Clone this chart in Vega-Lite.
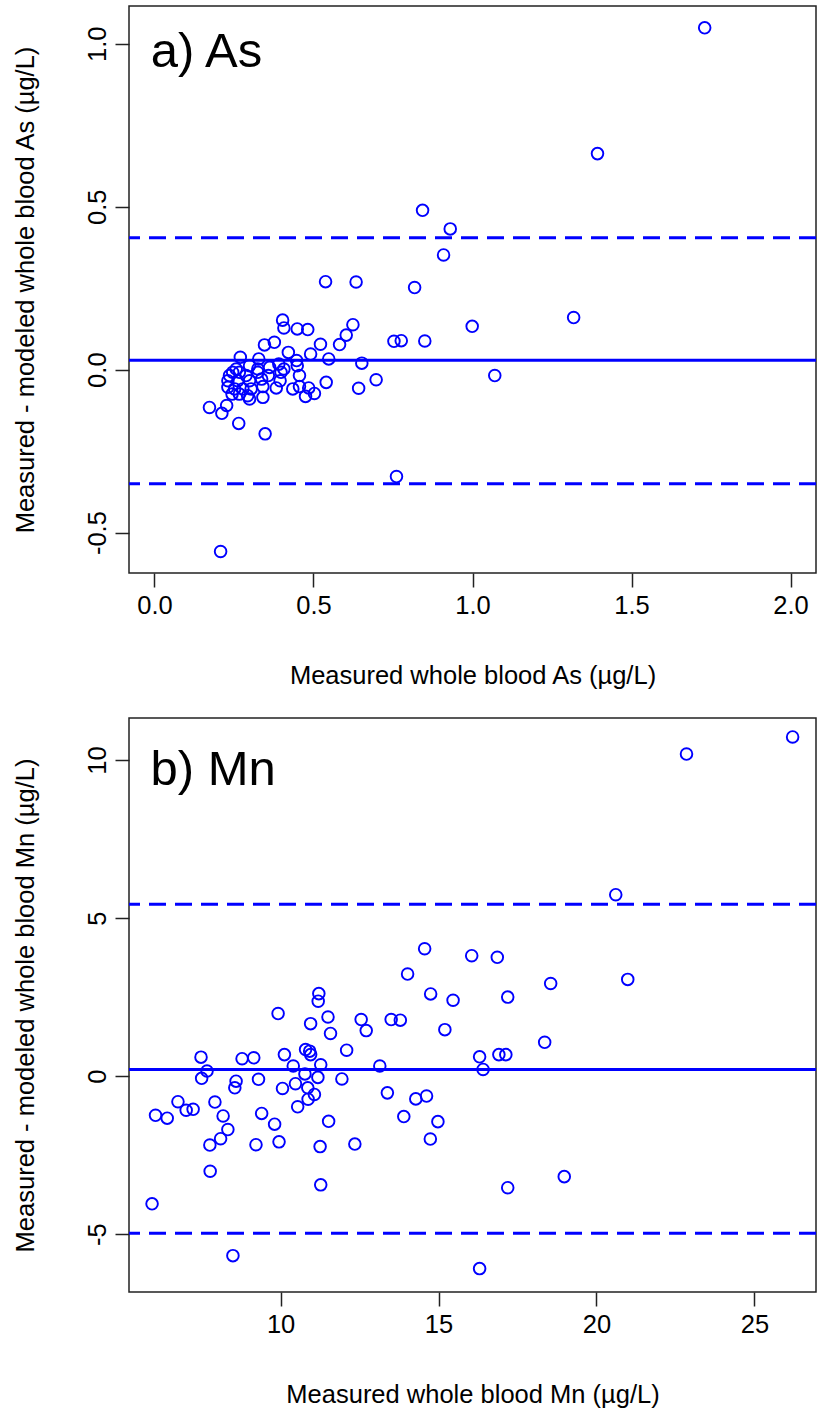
{
  "$schema": "https://vega.github.io/schema/vega-lite/v6.json",
  "padding": {"left": 12, "top": 5, "right": 0, "bottom": 0},
  "bounds": "flush",
  "spacing": 145,
  "background": "white",
  "config": {
    "font": "Liberation Sans",
    "view": {"stroke": "#222222", "strokeWidth": 1.5},
    "axis": {
      "grid": false, "domain": false,
      "tickColor": "#222222", "tickWidth": 1.5, "tickSize": 14,
      "labelFont": "Liberation Sans", "titleFont": "Liberation Sans",
      "labelFontSize": 25.5, "titleFontSize": 25.5,
      "labelColor": "#000000", "titleColor": "#000000",
      "titleFontWeight": "normal", "labelFlush": false, "labelOverlap": false
    },
    "axisX": {"labelPadding": 6, "titlePadding": 45},
    "axisY": {"labelAngle": -90, "labelAlign": "center", "labelBaseline": "bottom", "labelPadding": 5, "titlePadding": 47}
  },
  "datasets": {
    "as_pts": [
      {"x":1.730,"y":1.049},{"x":1.393,"y":0.663},{"x":0.843,"y":0.489},{"x":0.930,"y":0.432},
      {"x":0.909,"y":0.352},{"x":0.538,"y":0.270},{"x":0.634,"y":0.269},{"x":0.818,"y":0.252},
      {"x":1.318,"y":0.160},{"x":0.999,"y":0.133},{"x":0.624,"y":0.138},{"x":0.403,"y":0.152},
      {"x":0.407,"y":0.128},{"x":0.449,"y":0.125},{"x":0.482,"y":0.123},{"x":0.603,"y":0.106},
      {"x":0.582,"y":0.077},{"x":0.522,"y":0.078},{"x":0.346,"y":0.076},{"x":0.377,"y":0.084},
      {"x":0.421,"y":0.053},{"x":0.491,"y":0.048},{"x":0.548,"y":0.033},{"x":0.652,"y":0.020},
      {"x":0.270,"y":0.038},{"x":0.328,"y":0.033},{"x":0.447,"y":0.028},{"x":0.449,"y":0.012},
      {"x":0.391,"y":0.017},{"x":0.362,"y":0.007},{"x":0.407,"y":0.002},{"x":0.325,"y":0.002},
      {"x":0.299,"y":0.012},{"x":0.257,"y":0.002},{"x":0.246,"y":-0.008},{"x":0.267,"y":-0.008},
      {"x":0.236,"y":-0.018},{"x":0.288,"y":-0.018},{"x":0.325,"y":-0.008},{"x":0.358,"y":-0.018},
      {"x":0.398,"y":-0.008},{"x":0.456,"y":-0.018},{"x":0.395,"y":-0.034},{"x":0.231,"y":-0.034},
      {"x":0.262,"y":-0.034},{"x":0.299,"y":-0.034},{"x":0.337,"y":-0.029},{"x":0.231,"y":-0.054},
      {"x":0.252,"y":-0.059},{"x":0.278,"y":-0.059},{"x":0.304,"y":-0.059},{"x":0.341,"y":-0.052},
      {"x":0.383,"y":-0.056},{"x":0.244,"y":-0.075},{"x":0.267,"y":-0.075},{"x":0.293,"y":-0.080},
      {"x":0.299,"y":-0.090},{"x":0.341,"y":-0.085},{"x":0.435,"y":-0.059},{"x":0.456,"y":-0.052},
      {"x":0.485,"y":-0.056},{"x":0.503,"y":-0.073},{"x":0.475,"y":-0.082},{"x":0.540,"y":-0.039},
      {"x":0.642,"y":-0.057},{"x":0.697,"y":-0.031},{"x":0.173,"y":-0.116},{"x":0.227,"y":-0.110},
      {"x":0.212,"y":-0.134},{"x":0.265,"y":-0.165},{"x":0.348,"y":-0.197},{"x":0.753,"y":0.087},
      {"x":0.776,"y":0.089},{"x":0.850,"y":0.088},{"x":1.070,"y":-0.018},{"x":0.208,"y":-0.558},
      {"x":0.761,"y":-0.328}
    ],
    "as_lines": [
      {"kind":"mean","y":0.029},{"kind":"upper","y":0.405},{"kind":"lower","y":-0.350}
    ],
    "as_label": [{"label":"a) As","x":-0.012,"y":0.975}],
    "mn_pts": [
      {"x":26.21,"y":10.73},{"x":22.85,"y":10.19},{"x":20.61,"y":5.74},{"x":20.99,"y":3.06},
      {"x":18.55,"y":2.93},{"x":18.36,"y":1.07},{"x":14.56,"y":4.03},{"x":16.05,"y":3.81},
      {"x":16.86,"y":3.76},{"x":14.02,"y":3.23},{"x":14.75,"y":2.60},{"x":15.46,"y":2.40},
      {"x":17.19,"y":2.50},{"x":13.50,"y":1.79},{"x":13.79,"y":1.77},{"x":15.20,"y":1.47},
      {"x":16.30,"y":0.61},{"x":16.91,"y":0.68},{"x":17.13,"y":0.68},{"x":16.41,"y":0.21},
      {"x":13.14,"y":0.32},{"x":13.38,"y":-0.53},{"x":14.28,"y":-0.72},{"x":14.62,"y":-0.63},
      {"x":13.90,"y":-1.28},{"x":14.98,"y":-1.44},{"x":14.74,"y":-1.99},{"x":18.98,"y":-3.18},
      {"x":17.19,"y":-3.53},{"x":16.30,"y":-6.09},{"x":11.21,"y":2.61},{"x":11.19,"y":2.37},
      {"x":9.92,"y":1.98},{"x":10.95,"y":1.66},{"x":11.50,"y":1.87},{"x":12.55,"y":1.79},
      {"x":12.71,"y":1.44},{"x":11.58,"y":1.35},{"x":10.79,"y":0.84},{"x":10.92,"y":0.79},
      {"x":10.95,"y":0.68},{"x":10.12,"y":0.68},{"x":12.09,"y":0.82},{"x":7.48,"y":0.60},
      {"x":8.78,"y":0.55},{"x":9.15,"y":0.58},{"x":10.40,"y":0.32},{"x":11.27,"y":0.36},
      {"x":7.67,"y":0.16},{"x":7.50,"y":-0.07},{"x":10.77,"y":0.07},{"x":11.18,"y":-0.04},
      {"x":11.94,"y":-0.09},{"x":8.59,"y":-0.16},{"x":8.55,"y":-0.37},{"x":9.30,"y":-0.10},
      {"x":10.06,"y":-0.39},{"x":10.47,"y":-0.24},{"x":10.86,"y":-0.37},{"x":11.07,"y":-0.58},
      {"x":10.87,"y":-0.73},{"x":10.54,"y":-0.97},{"x":6.75,"y":-0.81},{"x":7.01,"y":-1.08},
      {"x":7.23,"y":-1.05},{"x":7.92,"y":-0.82},{"x":6.04,"y":-1.24},{"x":6.41,"y":-1.33},
      {"x":8.18,"y":-1.26},{"x":9.40,"y":-1.18},{"x":9.81,"y":-1.52},{"x":11.52,"y":-1.43},
      {"x":8.33,"y":-1.69},{"x":8.10,"y":-1.98},{"x":7.76,"y":-2.18},{"x":9.22,"y":-2.17},
      {"x":9.95,"y":-2.08},{"x":11.25,"y":-2.23},{"x":12.35,"y":-2.15},{"x":7.77,"y":-3.01},
      {"x":11.27,"y":-3.44},{"x":5.93,"y":-4.04},{"x":8.49,"y":-5.68}
    ],
    "mn_lines": [
      {"kind":"mean","y":0.21},{"kind":"upper","y":5.44},{"kind":"lower","y":-4.97}
    ],
    "mn_label": [{"label":"b) Mn","x":5.88,"y":9.7}]
  },
  "vconcat": [
    {
      "width": 687, "height": 567,
      "layer": [
        {
          "data": {"name": "as_lines"},
          "transform": [{"filter": "datum.kind == 'mean'"}],
          "mark": {"type": "rule", "color": "#0000ff", "strokeWidth": 3},
          "encoding": {
            "y": {"field": "y", "type": "quantitative", "title": "Measured - modeled whole blood As (µg/L)",
                  "scale": {"domain": [-0.624, 1.116], "nice": false, "zero": false}}
          }
        },
        {
          "data": {"name": "as_lines"},
          "transform": [{"filter": "datum.kind != 'mean'"}],
          "mark": {"type": "rule", "color": "#0000ff", "strokeWidth": 3, "strokeDash": [17, 9]},
          "encoding": {
            "y": {"field": "y", "type": "quantitative", "title": "Measured - modeled whole blood As (µg/L)",
                  "scale": {"domain": [-0.624, 1.116], "nice": false, "zero": false}}
          }
        },
        {
          "data": {"name": "as_pts"},
          "mark": {"type": "point", "shape": "circle", "filled": false, "color": "#0000ff", "strokeWidth": 1.9, "size": 135, "opacity": 1},
          "encoding": {
            "x": {"field": "x", "type": "quantitative", "title": "Measured whole blood As (µg/L)",
                  "scale": {"domain": [-0.08, 2.08], "nice": false, "zero": false},
                  "axis": {"values": [0, 0.5, 1, 1.5, 2], "format": ".1f"}},
            "y": {"field": "y", "type": "quantitative", "title": "Measured - modeled whole blood As (µg/L)",
                  "scale": {"domain": [-0.624, 1.116], "nice": false, "zero": false},
                  "axis": {"values": [-0.5, 0, 0.5, 1], "labelExpr": "replace(format(datum.value, '.1f'), '\u2212', '-')"}}
          }
        },
        {
          "data": {"name": "as_label"},
          "mark": {"type": "text", "align": "left", "baseline": "middle", "fontSize": 49, "font": "Liberation Sans", "color": "#000000"},
          "encoding": {
            "text": {"field": "label"},
            "x": {"field": "x", "type": "quantitative", "title": "Measured whole blood As (µg/L)",
                  "scale": {"domain": [-0.08, 2.08], "nice": false, "zero": false}},
            "y": {"field": "y", "type": "quantitative", "title": "Measured - modeled whole blood As (µg/L)",
                  "scale": {"domain": [-0.624, 1.116], "nice": false, "zero": false}}
          }
        }
      ]
    },
    {
      "width": 687, "height": 574,
      "layer": [
        {
          "data": {"name": "mn_lines"},
          "transform": [{"filter": "datum.kind == 'mean'"}],
          "mark": {"type": "rule", "color": "#0000ff", "strokeWidth": 3},
          "encoding": {
            "y": {"field": "y", "type": "quantitative", "title": "Measured - modeled whole blood Mn (µg/L)",
                  "scale": {"domain": [-6.83, 11.33], "nice": false, "zero": false}}
          }
        },
        {
          "data": {"name": "mn_lines"},
          "transform": [{"filter": "datum.kind != 'mean'"}],
          "mark": {"type": "rule", "color": "#0000ff", "strokeWidth": 3, "strokeDash": [17, 9]},
          "encoding": {
            "y": {"field": "y", "type": "quantitative", "title": "Measured - modeled whole blood Mn (µg/L)",
                  "scale": {"domain": [-6.83, 11.33], "nice": false, "zero": false}}
          }
        },
        {
          "data": {"name": "mn_pts"},
          "mark": {"type": "point", "shape": "circle", "filled": false, "color": "#0000ff", "strokeWidth": 1.9, "size": 135, "opacity": 1},
          "encoding": {
            "x": {"field": "x", "type": "quantitative", "title": "Measured whole blood Mn (µg/L)",
                  "scale": {"domain": [5.2, 26.95], "nice": false, "zero": false},
                  "axis": {"values": [10, 15, 20, 25], "format": "d"}},
            "y": {"field": "y", "type": "quantitative", "title": "Measured - modeled whole blood Mn (µg/L)",
                  "scale": {"domain": [-6.83, 11.33], "nice": false, "zero": false},
                  "axis": {"values": [-5, 0, 5, 10], "labelExpr": "replace(format(datum.value, 'd'), '\u2212', '-')"}}
          }
        },
        {
          "data": {"name": "mn_label"},
          "mark": {"type": "text", "align": "left", "baseline": "middle", "fontSize": 49, "font": "Liberation Sans", "color": "#000000"},
          "encoding": {
            "text": {"field": "label"},
            "x": {"field": "x", "type": "quantitative", "title": "Measured whole blood Mn (µg/L)",
                  "scale": {"domain": [5.2, 26.95], "nice": false, "zero": false}},
            "y": {"field": "y", "type": "quantitative", "title": "Measured - modeled whole blood Mn (µg/L)",
                  "scale": {"domain": [-6.83, 11.33], "nice": false, "zero": false}}
          }
        }
      ]
    }
  ]
}
